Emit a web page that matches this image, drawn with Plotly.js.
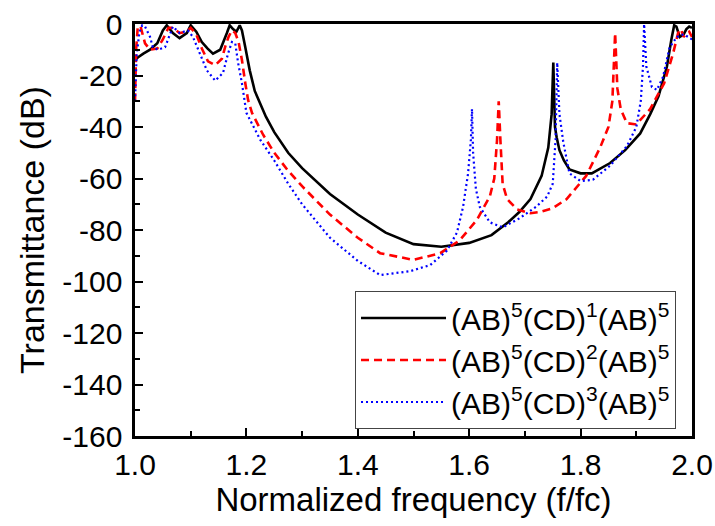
<!DOCTYPE html>
<html>
<head>
<meta charset="utf-8">
<script src="https://cdn.plot.ly/plotly-3.0.1.min.js"></script>
<style>html,body{margin:0;padding:0;background:#fff;}#chart{width:715px;height:526px;}</style>
</head>
<body>
<div id="chart"></div>
<script>
// Series names
const seriesNames = [
  "(AB)<sup>5</sup>(CD)<sup>1</sup>(AB)<sup>5</sup>",
  "(AB)<sup>5</sup>(CD)<sup>2</sup>(AB)<sup>5</sup>",
  "(AB)<sup>5</sup>(CD)<sup>3</sup>(AB)<sup>5</sup>"
];

// Tick values and labels
const xTickVals = [1.0, 1.2, 1.4, 1.6, 1.8, 2.0];
const xTickText = ["1.0", "1.2", "1.4", "1.6", "1.8", "2.0"];
const yTickVals = [0, -20, -40, -60, -80, -100, -120, -140, -160];
const yTickText = ["0", "-20", "-40", "-60", "-80", "-100", "-120", "-140", "-160"];

// (AB)5(CD)1(AB)5
const freq1 = [1.0, 1.002, 1.005, 1.015, 1.027, 1.04, 1.05, 1.057, 1.068, 1.08, 1.093, 1.10, 1.11, 1.12, 1.13, 1.14, 1.153, 1.165, 1.17, 1.176, 1.182, 1.188, 1.192, 1.198, 1.206, 1.215, 1.235, 1.25, 1.275, 1.3, 1.35, 1.4, 1.45, 1.5, 1.55, 1.6, 1.64, 1.67, 1.69, 1.71, 1.73, 1.742, 1.748, 1.751, 1.752, 1.754, 1.757, 1.762, 1.77, 1.78, 1.80, 1.82, 1.853, 1.88, 1.907, 1.925, 1.94, 1.955, 1.963, 1.968, 1.972, 1.978, 1.985, 1.99, 1.995, 2.0];
const trans1 = [-14, -13.5, -13, -11.5, -10, -7.5, -2.5, -0.5, -3.5, -5.5, -3.5, -0.5, -3, -7, -9.5, -11.5, -10, -3.5, -0.5, -2, -3, -0.5, -2.5, -9, -18, -26, -36, -42, -50, -56, -66, -74, -81, -85.5, -86.5, -85, -82, -77, -73, -68, -59, -48, -35, -15, -22, -40, -44, -49, -53, -56.5, -58, -58, -54, -49, -42.5, -35, -28, -16.5, -6, -0.5, -1, -5, -4, -2, -1, -1.5];

// (AB)5(CD)2(AB)5
const freq2 = [1.0, 1.002, 1.005, 1.01, 1.018, 1.027, 1.04, 1.05, 1.06, 1.068, 1.08, 1.093, 1.10, 1.11, 1.12, 1.131, 1.144, 1.156, 1.163, 1.168, 1.174, 1.18, 1.186, 1.192, 1.198, 1.203, 1.21, 1.23, 1.25, 1.275, 1.3, 1.35, 1.4, 1.44, 1.5, 1.548, 1.583, 1.614, 1.637, 1.645, 1.65, 1.653, 1.656, 1.66, 1.668, 1.686, 1.71, 1.727, 1.75, 1.775, 1.81, 1.835, 1.85, 1.857, 1.862, 1.866, 1.872, 1.883, 1.90, 1.925, 1.95, 1.966, 1.975, 1.98, 1.985, 1.99, 1.995, 2.0];
const trans2 = [-30, -10, -1, -1, -7.5, -10, -9.5, -6, -1.5, -1.5, -3.5, -3, -1.5, -4, -9.5, -14.5, -16, -13.5, -8, -5, -2.5, -3.5, -7, -14, -23, -29.5, -34.5, -43, -50, -57, -63, -74, -83, -89, -91.6, -89, -84, -76, -67, -60, -45, -30, -45, -62, -68, -72, -73.5, -73, -71.5, -68, -59, -48, -40, -30, -3.5, -25, -33, -38.5, -39, -33, -23, -11.5, -3.5, -2, -5, -3.5, -3, -5];

// (AB)5(CD)3(AB)5
const freq3 = [1.0, 1.003, 1.008, 1.013, 1.018, 1.027, 1.032, 1.041, 1.054, 1.063, 1.068, 1.08, 1.095, 1.104, 1.117, 1.129, 1.144, 1.158, 1.167, 1.174, 1.18, 1.185, 1.192, 1.197, 1.2, 1.225, 1.25, 1.275, 1.3, 1.35, 1.4, 1.44, 1.494, 1.53, 1.56, 1.578, 1.589, 1.598, 1.603, 1.605, 1.607, 1.612, 1.619, 1.637, 1.66, 1.69, 1.72, 1.74, 1.75, 1.755, 1.758, 1.762, 1.769, 1.78, 1.80, 1.822, 1.853, 1.883, 1.90, 1.908, 1.912, 1.914, 1.918, 1.928, 1.937, 1.948, 1.96, 1.973, 1.985, 1.993, 2.0];
const trans3 = [-30, -12, -3, -0.5, -1, -5, -9, -10, -9, -3.5, -1, -3.5, -2.5, -5, -11.5, -18, -22, -19, -11.5, -7, -7.5, -15, -23, -29.5, -34.5, -45, -53, -62, -70, -83, -92, -97.5, -96, -93.6, -88, -81, -71, -58, -45, -33, -50, -64, -71, -77, -79, -75.5, -71, -67, -62, -45, -15, -35, -46, -58, -61, -60.5, -55, -47.5, -40, -30, -16.5, 0, -16.5, -24.5, -25.6, -20.5, -9, -5, -4, -5, -6];

const FONT = "Liberation Sans, Arial, sans-serif";

const traces = [
  {x: freq1, y: trans1, name: seriesNames[0], mode: "lines", line: {color: "#000000", width: 2.6}},
  {x: freq2, y: trans2, name: seriesNames[1], mode: "lines", line: {color: "#ff0000", width: 2.6, dash: "8px,5px"}},
  {x: freq3, y: trans3, name: seriesNames[2], mode: "lines", line: {color: "#0000ff", width: 2.2, dash: "2px,3px"}}
];

const layout = {
  width: 715, height: 526,
  margin: {l: 135, r: 23, t: 24, b: 90},
  paper_bgcolor: "#ffffff", plot_bgcolor: "#ffffff",
  font: {family: FONT, size: 28, color: "#000"},
  showlegend: true,
  legend: {
    x: 0.395, y: 0.352, xanchor: "left", yanchor: "top",
    bgcolor: "#ffffff", bordercolor: "#444", borderwidth: 1,
    font: {family: FONT, size: 30, color: "#000"},
    itemwidth: 85, tracegroupgap: 0
  },
  xaxis: {
    range: [1.0, 2.0], tickmode: "array", tickvals: xTickVals, ticktext: xTickText,
    showgrid: false, zeroline: false,
    showline: true, linecolor: "#000", linewidth: 2.6, mirror: true,
    ticks: "inside", ticklen: 8, tickwidth: 2, tickcolor: "#000",
    minor: {ticks: "inside", ticklen: 5, tickwidth: 2, dtick: 0.1, tick0: 1.0, tickcolor: "#000", showgrid: false},
    tickfont: {family: FONT, size: 30},
    title: {text: "Normalized frequency (f/fc)", font: {family: FONT, size: 33}, standoff: 6}
  },
  yaxis: {
    range: [-160, 0], tickmode: "array", tickvals: yTickVals, ticktext: yTickText,
    showgrid: false, zeroline: false,
    showline: true, linecolor: "#000", linewidth: 2.6, mirror: true,
    ticks: "inside", ticklen: 8, tickwidth: 2, tickcolor: "#000",
    minor: {ticks: "inside", ticklen: 5, tickwidth: 2, dtick: 10, tick0: 0, tickcolor: "#000", showgrid: false},
    tickfont: {family: FONT, size: 30},
    ticklabelstandoff: 4,
    title: {text: "Transmittance (dB)", font: {family: FONT, size: 34}, standoff: 8}
  }
};

Plotly.newPlot("chart", traces, layout, {displayModeBar: false, staticPlot: true});
</script>
</body>
</html>
